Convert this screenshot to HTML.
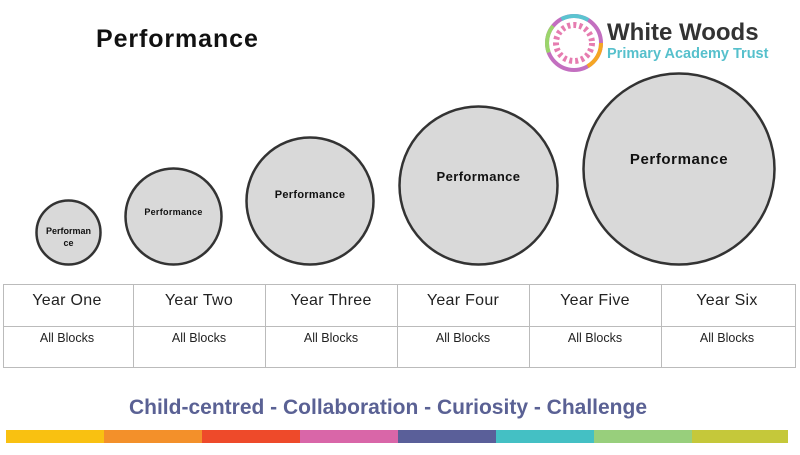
<!DOCTYPE html>
<html><head><style>
html,body{margin:0;padding:0;background:#fff;}
body{width:800px;height:455px;position:relative;overflow:hidden;font-family:"Liberation Sans",sans-serif;}
</style></head><body>
<svg width="800" height="455" style="position:absolute;left:0;top:0" font-family="Liberation Sans, sans-serif">
<text x="96" y="47" font-size="25" font-weight="bold" fill="#111" letter-spacing="0.9">Performance</text>
<g transform="translate(574,43)">
<circle r="27" fill="none" stroke="#c36fc0" stroke-width="4"/>
<circle r="27" fill="none" stroke="#f5a623" stroke-width="4" stroke-dasharray="28 142" />
<circle r="27" fill="none" stroke="#5bc4d0" stroke-width="4" stroke-dasharray="28 142" stroke-dashoffset="56"/>
<circle r="27" fill="none" stroke="#9bd56b" stroke-width="4" stroke-dasharray="28 142" stroke-dashoffset="95"/>
<circle r="18" fill="none" stroke="#e67cb0" stroke-width="6" stroke-dasharray="3 3"/>
</g>
<text x="607" y="40" font-size="24" font-weight="bold" fill="#333">White Woods</text>
<text x="607" y="58" font-size="14.5" font-weight="bold" fill="#56c0cc">Primary Academy Trust</text>
<g fill="#d9d9d9" stroke="#333" stroke-width="2.5">
<circle cx="68.5" cy="232.5" r="32"/>
<circle cx="173.5" cy="216.5" r="48"/>
<circle cx="310" cy="201" r="63.5"/>
<circle cx="478.5" cy="185.5" r="79"/>
<circle cx="679" cy="169" r="95.5"/>
</g>
<g font-weight="bold" fill="#111" text-anchor="middle">
<text x="68.5" y="234" font-size="9">Performan</text>
<text x="68.5" y="246" font-size="9">ce</text>
<text x="173.5" y="215" font-size="9" letter-spacing="0.3">Performance</text>
<text x="310" y="198" font-size="11" letter-spacing="0.3">Performance</text>
<text x="478.5" y="181" font-size="13" letter-spacing="0.4">Performance</text>
<text x="679" y="164" font-size="15" letter-spacing="0.6">Performance</text>
</g>
<g stroke="#bbb" stroke-width="1" fill="none">
<rect x="3.5" y="284.5" width="792" height="83"/>
<line x1="3.5" y1="326.5" x2="795.5" y2="326.5"/>
<line x1="133.5" y1="284" x2="133.5" y2="368"/>
<line x1="265.5" y1="284" x2="265.5" y2="368"/>
<line x1="397.5" y1="284" x2="397.5" y2="368"/>
<line x1="529.5" y1="284" x2="529.5" y2="368"/>
<line x1="661.5" y1="284" x2="661.5" y2="368"/>
</g>
<g text-anchor="middle" fill="#222">
<g font-size="16" letter-spacing="0.3"><text x="67" y="305">Year One</text><text x="199" y="305">Year Two</text><text x="331" y="305">Year Three</text><text x="463" y="305">Year Four</text><text x="595" y="305">Year Five</text><text x="727" y="305">Year Six</text></g>
<g font-size="12.5"><text x="67" y="342">All Blocks</text><text x="199" y="342">All Blocks</text><text x="331" y="342">All Blocks</text><text x="463" y="342">All Blocks</text><text x="595" y="342">All Blocks</text><text x="727" y="342">All Blocks</text></g>
</g>
<text x="388" y="414" font-size="21" font-weight="bold" fill="#5a6194" text-anchor="middle">Child-centred - Collaboration - Curiosity - Challenge</text>
<rect x="6" y="430" width="98" height="13" fill="#f9c111"/>
<rect x="104" y="430" width="98" height="13" fill="#f3902a"/>
<rect x="202" y="430" width="98" height="13" fill="#ee4a2a"/>
<rect x="300" y="430" width="98" height="13" fill="#d966a8"/>
<rect x="398" y="430" width="98" height="13" fill="#5a5f99"/>
<rect x="496" y="430" width="98" height="13" fill="#44c0c4"/>
<rect x="594" y="430" width="98" height="13" fill="#98cf7c"/>
<rect x="692" y="430" width="96" height="13" fill="#c5c83a"/>
</svg>
</body></html>
